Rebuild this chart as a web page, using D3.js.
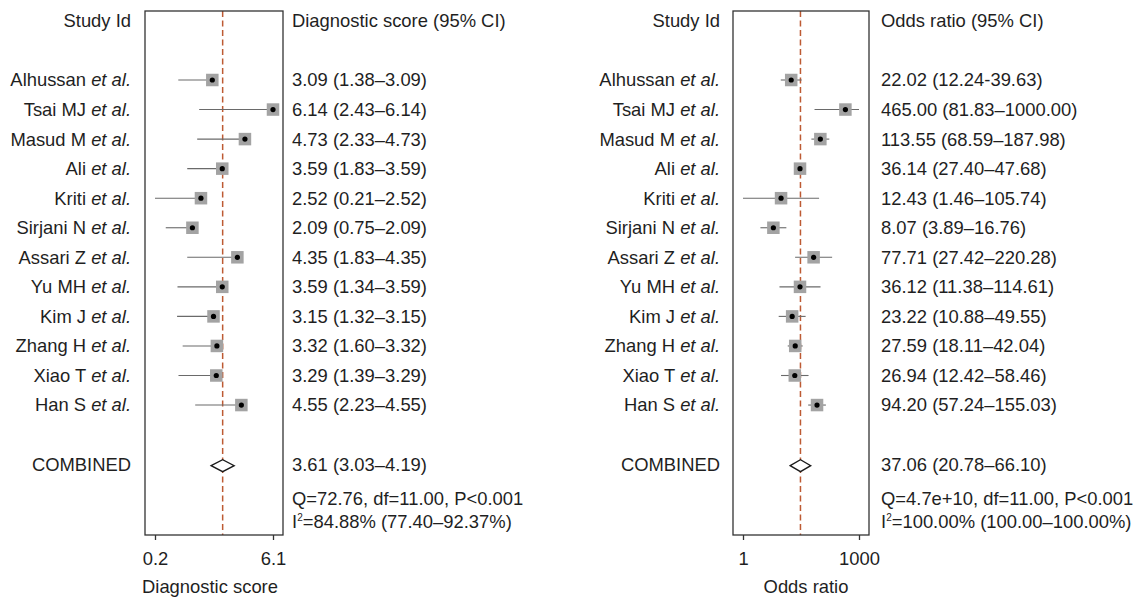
<!DOCTYPE html>
<html>
<head>
<meta charset="utf-8">
<script src="https://cdn.jsdelivr.net/npm/d3@7"></script>
<style>
  html, body { margin: 0; padding: 0; background: #fff; }
  svg { display: block; }
  text { font-family: "Liberation Sans", Arial, Helvetica, sans-serif; font-size: 18.4px; fill: #1f1f1f; }
</style>
</head>
<body>
<svg id="chart" width="1142" height="598"></svg>
<script>
// ---------------- data ----------------
const studies = ["Alhussan", "Tsai MJ", "Masud M", "Ali", "Kriti", "Sirjani N",
                 "Assari Z", "Yu MH", "Kim J", "Zhang H", "Xiao T", "Han S"];

const dsEst   = [3.09, 6.14, 4.73, 3.59, 2.52, 2.09, 4.35, 3.59, 3.15, 3.32, 3.29, 4.55];
const dsLow   = [1.38, 2.43, 2.33, 1.83, 0.21, 0.75, 1.83, 1.34, 1.32, 1.60, 1.39, 2.23];
const dsHigh  = [3.09, 6.14, 4.73, 3.59, 2.52, 2.09, 4.35, 3.59, 3.15, 3.32, 3.29, 4.55];
const dsLabels = ["3.09 (1.38–3.09)", "6.14 (2.43–6.14)", "4.73 (2.33–4.73)", "3.59 (1.83–3.59)",
                  "2.52 (0.21–2.52)", "2.09 (0.75–2.09)", "4.35 (1.83–4.35)", "3.59 (1.34–3.59)",
                  "3.15 (1.32–3.15)", "3.32 (1.60–3.32)", "3.29 (1.39–3.29)", "4.55 (2.23–4.55)"];
const dsCombined = [3.61, 3.03, 4.19];
const dsCombinedLabel = "3.61 (3.03–4.19)";
const dsQ = "Q=72.76, df=11.00, P<0.001";
const dsI2 = "=84.88% (77.40–92.37%)";
const dsTicks = [0.21, 6.14];
const dsTickLabels = ["0.2", "6.1"];

const orEst   = [22.02, 465.00, 113.55, 36.14, 12.43, 8.07, 77.71, 36.12, 23.22, 27.59, 26.94, 94.20];
const orLow   = [12.24, 81.83, 68.59, 27.40, 1.46, 3.89, 27.42, 11.38, 10.88, 18.11, 12.42, 57.24];
const orHigh  = [39.63, 1000.00, 187.98, 47.68, 105.74, 16.76, 220.28, 114.61, 49.55, 42.04, 58.46, 155.03];
const orLabels = ["22.02 (12.24-39.63)", "465.00 (81.83–1000.00)", "113.55 (68.59–187.98)",
                  "36.14 (27.40–47.68)", "12.43 (1.46–105.74)", "8.07 (3.89–16.76)",
                  "77.71 (27.42–220.28)", "36.12 (11.38–114.61)", "23.22 (10.88–49.55)",
                  "27.59 (18.11–42.04)", "26.94 (12.42–58.46)", "94.20 (57.24–155.03)"];
const orCombined = [37.06, 20.78, 66.10];
const orCombinedLabel = "37.06 (20.78–66.10)";
const orQ = "Q=4.7e+10, df=11.00, P<0.001";
const orI2 = "=100.00% (100.00–100.00%)";
const orTicks = [1.46, 1000];
const orTickLabels = ["1", "1000"];

// ---------------- layout ----------------
const svg = d3.select("#chart");
const rowY = d3.scaleLinear().domain([0, 1]).range([80, 109.55]);
const boxTop = 11, boxBottom = 535;

function panel(opt) {
  const g = svg.append("g");
  const x = opt.log ? d3.scaleLog() : d3.scaleLinear();
  x.domain(opt.ticks).range([opt.boxL + 10, opt.boxR - 10]);

  // headers
  g.append("text").attr("x", opt.labelX).attr("y", rowY(-2)).attr("dy", "0.35em")
    .attr("text-anchor", "end").text("Study Id");
  g.append("text").attr("x", opt.valX).attr("y", rowY(-2)).attr("dy", "0.35em")
    .text(opt.header);

  // study labels
  const lab = g.selectAll("text.study").data(studies).join("text")
    .attr("class", "study")
    .attr("x", opt.labelX).attr("y", (d, i) => rowY(i)).attr("dy", "0.35em")
    .attr("text-anchor", "end");
  lab.append("tspan").text(d => d + " ");
  lab.append("tspan").attr("font-style", "italic").text("et al.");

  g.append("text").attr("x", opt.labelX).attr("y", rowY(13)).attr("dy", "0.35em")
    .attr("text-anchor", "end").text("COMBINED");

  // value labels
  g.selectAll("text.val").data(opt.labels).join("text")
    .attr("class", "val")
    .attr("x", opt.valX).attr("y", (d, i) => rowY(i)).attr("dy", "0.35em")
    .text(d => d);
  g.append("text").attr("x", opt.valX).attr("y", rowY(13)).attr("dy", "0.35em")
    .text(opt.combinedLabel);
  g.append("text").attr("x", opt.valX).attr("y", rowY(14.15)).attr("dy", "0.35em")
    .text(opt.q);
  const i2 = g.append("text").attr("x", opt.valX).attr("y", rowY(14.95) + 6.4);
  i2.append("tspan").text("I");
  i2.append("tspan").attr("font-size", "10px").attr("dy", -7).text("2");
  i2.append("tspan").attr("dy", 7).text(opt.i2);

  // reference dashed line
  g.append("line")
    .attr("x1", x(opt.combined[0])).attr("x2", x(opt.combined[0]))
    .attr("y1", boxTop).attr("y2", boxBottom)
    .attr("stroke", "#bd5a33").attr("stroke-width", 1.5)
    .attr("stroke-dasharray", "6,3.5");

  // CI lines
  g.selectAll("line.ci").data(opt.est).join("line")
    .attr("class", "ci")
    .attr("x1", (d, i) => x(opt.low[i])).attr("x2", (d, i) => x(opt.high[i]))
    .attr("y1", (d, i) => rowY(i)).attr("y2", (d, i) => rowY(i))
    .attr("stroke", "#6a6a6a").attr("stroke-width", 1.1);

  // squares
  const s = 12.5;
  g.selectAll("rect.sq").data(opt.est).join("rect")
    .attr("class", "sq")
    .attr("x", d => x(d) - s / 2).attr("y", (d, i) => rowY(i) - s / 2)
    .attr("width", s).attr("height", s)
    .attr("fill", "#a3a3a3");

  // points
  g.selectAll("circle.pt").data(opt.est).join("circle")
    .attr("class", "pt")
    .attr("cx", d => x(d)).attr("cy", (d, i) => rowY(i)).attr("r", 2.6)
    .attr("fill", "#000");

  // combined diamond
  const [ce, cl, ch] = opt.combined;
  const cy = rowY(13) + 1.5;
  g.append("path")
    .attr("d", `M${x(cl)},${cy} L${x(ce)},${cy - 6} L${x(ch)},${cy} L${x(ce)},${cy + 6} Z`)
    .attr("fill", "#fff").attr("stroke", "#1a1a1a").attr("stroke-width", 1.3);

  // box
  g.append("rect")
    .attr("x", opt.boxL).attr("y", boxTop)
    .attr("width", opt.boxR - opt.boxL).attr("height", boxBottom - boxTop)
    .attr("fill", "none").attr("stroke", "#333").attr("stroke-width", 1.3);

  // axis
  const axis = d3.axisBottom(x)
    .tickValues(opt.ticks)
    .tickFormat((d, i) => opt.tickLabels[i])
    .tickSize(5).tickPadding(12);
  const ax = g.append("g").attr("transform", `translate(0,${boxBottom})`).call(axis);
  ax.select(".domain").remove();
  ax.selectAll(".tick line").attr("stroke", "#333").attr("stroke-width", 1.3);
  ax.selectAll(".tick text").attr("font-size", "18.4px")
    .attr("font-family", "'Liberation Sans', Arial, sans-serif").attr("fill", "#1f1f1f");

  g.append("text").attr("x", (opt.boxL + opt.boxR) / 2 + opt.titleShift).attr("y", 587)
    .attr("dy", "0.35em").attr("text-anchor", "middle").text(opt.axisTitle);
}

panel({
  boxL: 145, boxR: 283, labelX: 131, valX: 292,
  header: "Diagnostic score (95% CI)",
  labels: dsLabels, est: dsEst, low: dsLow, high: dsHigh,
  combined: dsCombined, combinedLabel: dsCombinedLabel, q: dsQ, i2: dsI2,
  ticks: dsTicks, tickLabels: dsTickLabels, log: false,
  axisTitle: "Diagnostic score", titleShift: -4
});

panel({
  boxL: 733, boxR: 869, labelX: 720, valX: 881,
  header: "Odds ratio (95% CI)",
  labels: orLabels, est: orEst, low: orLow, high: orHigh,
  combined: orCombined, combinedLabel: orCombinedLabel, q: orQ, i2: orI2,
  ticks: orTicks, tickLabels: orTickLabels, log: true,
  axisTitle: "Odds ratio", titleShift: 5
});
</script>
</body>
</html>
